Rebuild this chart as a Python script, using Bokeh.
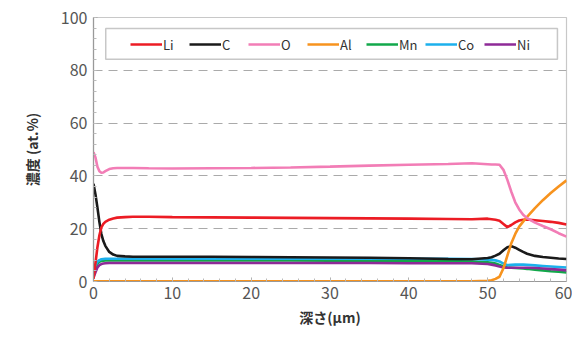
from bokeh.plotting import figure
from bokeh.models import Range1d, Legend, LegendItem, BoxAnnotation, SingleIntervalTicker
from bokeh.embed import file_html
from bokeh.resources import INLINE

depth = [0, 0.25, 0.5, 0.75, 1, 1.25, 1.5, 2, 2.5, 3, 4, 5, 7, 10, 15, 20, 25, 30, 35, 40, 45, 48,
         50, 50.5, 51, 51.5, 52, 52.5, 53, 53.5, 54, 54.5, 55, 56, 57, 58, 59, 60]

li = [1, 7, 13, 17.5, 20.5, 21.8, 22.6, 23.4, 23.9, 24.2, 24.4, 24.5, 24.5, 24.4, 24.3, 24.2, 24.1, 24.0, 23.9, 23.8, 23.7, 23.6,
      23.8, 23.6, 23.4, 23.0, 21.8, 20.6, 21.4, 22.4, 23.1, 23.4, 23.5, 23.2, 22.9, 22.6, 22.2, 21.6]
c = [37, 33, 28, 22.5, 18, 15.3, 13.5, 11.2, 10.2, 9.7, 9.5, 9.4, 9.4, 9.4, 9.4, 9.3, 9.2, 9.1, 9.0, 8.8, 8.5, 8.4,
     8.9, 9.2, 9.8, 10.5, 11.8, 13.0, 13.4, 12.8, 12.0, 11.2, 10.5, 9.7, 9.3, 9.0, 8.7, 8.5]
o = [49, 47, 43.5, 41.8, 41.2, 41.3, 41.8, 42.6, 42.9, 43.0, 43.0, 43.0, 42.9, 42.8, 42.9, 43.0, 43.2, 43.5, 43.9, 44.2, 44.5, 44.8,
     44.4, 44.3, 44.3, 44.2, 42.3, 38.5, 34.0, 30.0, 27.3, 25.3, 24.0, 22.3, 21.0, 19.8, 18.3, 17.0]
al = [0.1, 0.1, 0.1, 0.1, 0.1, 0.1, 0.1, 0.1, 0.1, 0.1, 0.1, 0.1, 0.1, 0.1, 0.1, 0.1, 0.1, 0.1, 0.1, 0.1, 0.1, 0.1,
      0.3, 0.5, 1.0, 1.8, 5.0, 9.8, 14.5, 18.0, 20.8, 22.7, 24.5, 27.8, 30.8, 33.5, 36.0, 38.3]
mn = [3, 5, 6.8, 7.5, 7.8, 7.9, 8.0, 8.0, 8.0, 8.0, 8.0, 8.0, 8.0, 8.0, 8.0, 8.0, 8.0, 7.9, 7.9, 7.8, 7.7, 7.6,
      7.3, 7.1, 6.8, 6.3, 5.7, 5.3, 5.2, 5.1, 5.0, 4.9, 4.8, 4.5, 4.2, 3.9, 3.7, 3.4]
co = [4, 6, 7.5, 8.1, 8.4, 8.5, 8.6, 8.6, 8.6, 8.6, 8.6, 8.6, 8.6, 8.6, 8.6, 8.6, 8.6, 8.6, 8.6, 8.6, 8.6, 8.5,
      8.3, 8.2, 8.0, 7.6, 6.8, 6.2, 6.3, 6.4, 6.4, 6.4, 6.3, 6.1, 5.9, 5.7, 5.5, 5.3]
ni = [1.5, 3.5, 5.3, 6.2, 6.6, 6.8, 6.9, 7.0, 7.0, 7.0, 7.0, 7.0, 7.0, 7.0, 7.0, 7.0, 7.0, 7.0, 7.0, 6.9, 6.9, 6.9,
      6.6, 6.4, 6.1, 5.7, 5.3, 5.2, 5.2, 5.2, 5.2, 5.2, 5.2, 5.1, 4.9, 4.7, 4.5, 4.2]

names = ["Li", "C", "O", "Al", "Mn", "Co", "Ni"]
colors = {"Li": "#ec1c24", "C": "#1a1a1a", "O": "#f27db6", "Al": "#f7931e",
          "Mn": "#12a84a", "Co": "#1cb0ec", "Ni": "#8e2a97"}
series = {"Li": li, "C": c, "O": o, "Al": al, "Mn": mn, "Co": co, "Ni": ni}
draw_order = ["Mn", "Co", "Ni", "C", "Li", "Al", "O"]

FONT = "Noto Sans CJK JP"

p = figure(width=572, height=340, output_backend="svg", toolbar_location=None,
           x_range=Range1d(0, 60), y_range=Range1d(0, 100),
           min_border_left=93, min_border_right=6, min_border_top=17, min_border_bottom=59)

renderers = {}
for n in draw_order:
    renderers[n] = p.line(depth, series[n], line_color=colors[n], line_width=2.6)

p.xaxis.ticker = SingleIntervalTicker(interval=10, num_minor_ticks=5)
p.yaxis.ticker = SingleIntervalTicker(interval=20, num_minor_ticks=5)

for ax in (p.xaxis[0], p.yaxis[0]):
    ax.axis_line_color = "#999999"
    ax.axis_line_width = 1.2
    ax.major_tick_in = 4
    ax.major_tick_out = 0
    ax.minor_tick_in = 3
    ax.minor_tick_out = 0
    ax.major_tick_line_color = "#aaaaaa"
    ax.minor_tick_line_color = "#bbbbbb"
    ax.major_label_text_font = FONT
    ax.major_label_text_font_size = "16px"
    ax.major_label_text_color = "#555555"
    ax.axis_label_text_font = FONT
    ax.axis_label_text_font_size = "14px"
    ax.axis_label_text_font_style = "bold"
    ax.axis_label_text_color = "#333333"

p.xaxis.axis_label = "深さ(μm)"
p.yaxis.axis_label = "濃度 (at.%)"
p.xaxis.major_label_standoff = 5
p.yaxis.major_label_standoff = 6
p.xaxis.axis_label_standoff = 5
p.yaxis.axis_label_standoff = 16

p.xgrid.visible = False
p.ygrid.grid_line_color = "#aaaaaa"
p.ygrid.grid_line_dash = "9 6"
p.ygrid.grid_line_width = 1

p.outline_line_color = "#c8c8c8"
p.outline_line_width = 1.2

box = BoxAnnotation(left=1.55, right=58.85, bottom=84.2, top=95.8,
                    fill_color="white", fill_alpha=1.0,
                    line_color="#444444", line_width=1.5, level="overlay")
p.add_layout(box)

legend = Legend(items=[LegendItem(label=n, renderers=[renderers[n]]) for n in names],
                orientation="horizontal", location=(31, 221), padding=6, spacing=6,
                glyph_width=32, glyph_height=20, label_standoff=1,
                label_text_font=FONT, label_text_font_size="13px",
                label_text_color="#333333", border_line_alpha=0,
                background_fill_alpha=0, margin=0)
p.add_layout(legend)

open("out.html", "w").write(file_html(p, INLINE))
